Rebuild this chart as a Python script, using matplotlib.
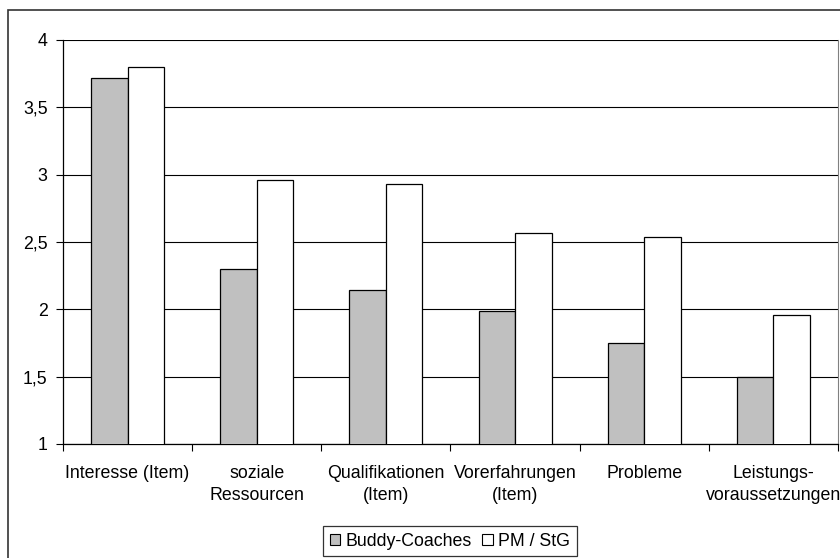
import matplotlib
matplotlib.use("Agg")
import matplotlib.pyplot as plt
import numpy as np
from matplotlib.patches import Patch, Rectangle

categories = [
    "Interesse (Item)",
    "soziale\nRessourcen",
    "Qualifikationen\n(Item)",
    "Vorerfahrungen\n(Item)",
    "Probleme",
    "Leistungs-\nvoraussetzungen",
]
buddy_coaches = [3.72, 2.30, 2.14, 1.99, 1.75, 1.50]
pm_stg = [3.80, 2.96, 2.93, 2.57, 2.54, 1.96]
series_names = ["Buddy-Coaches", "PM / StG"]
y_ticks = [1, 1.5, 2, 2.5, 3, 3.5, 4]
y_tick_labels = ["1", "1,5", "2", "2,5", "3", "3,5", "4"]

plt.rcParams["font.family"] = ["Liberation Sans", "DejaVu Sans"]
fs = 12.8

fig = plt.figure(figsize=(8.4, 5.58), dpi=100)
ax = fig.add_axes([63 / 840, 1 - 444 / 558, 775 / 840, 404 / 558])

# outer chart-area frame (cut off at right and bottom like the original)
fig.patches.append(Rectangle((8 / 840, -0.1), 1.0, 1 - 10 / 558 + 0.1,
                             transform=fig.transFigure, fill=False,
                             edgecolor="#333333", linewidth=1.2))

x = np.arange(len(categories))
width = 0.283
ax.bar(x - width / 2, buddy_coaches, width, bottom=0, color="#c0c0c0",
       edgecolor="black", linewidth=0.9, zorder=3)
ax.bar(x + width / 2, pm_stg, width, bottom=0, color="white",
       edgecolor="black", linewidth=0.9, zorder=3)

ax.set_xlim(-0.5, len(categories) - 0.5)
ax.set_ylim(1, 4)
ax.set_yticks(y_ticks)
ax.set_yticklabels(y_tick_labels, fontsize=fs)
ax.yaxis.grid(True, color="black", linewidth=0.8, zorder=0)

ax.set_xticks(x)
ax.set_xticklabels(categories, fontsize=fs, linespacing=1.4)
ax.tick_params(axis="x", length=0, pad=15)
ax.set_xticks(np.arange(len(categories) + 1) - 0.5, minor=True)
ax.tick_params(axis="x", which="minor", length=5, width=0.8, direction="out")
ax.tick_params(axis="y", length=5, width=0.8, direction="out", pad=6)

ax.spines["top"].set_visible(False)
ax.spines["right"].set_color("#808080")
ax.spines["left"].set_linewidth(0.9)
ax.spines["bottom"].set_linewidth(0.9)

handles = [
    Patch(facecolor="#c0c0c0", edgecolor="black", linewidth=0.8),
    Patch(facecolor="white", edgecolor="black", linewidth=0.8),
]
leg = fig.legend(handles, series_names, loc="center",
                 bbox_to_anchor=(450 / 840, 1 - 541 / 558), ncol=2,
                 fontsize=fs, frameon=True, fancybox=False,
                 handlelength=0.6, handleheight=0.6, handletextpad=0.3,
                 columnspacing=0.6, borderpad=0.35, edgecolor="black")
leg.get_frame().set_linewidth(0.9)

fig.savefig("out.png", dpi=100)
